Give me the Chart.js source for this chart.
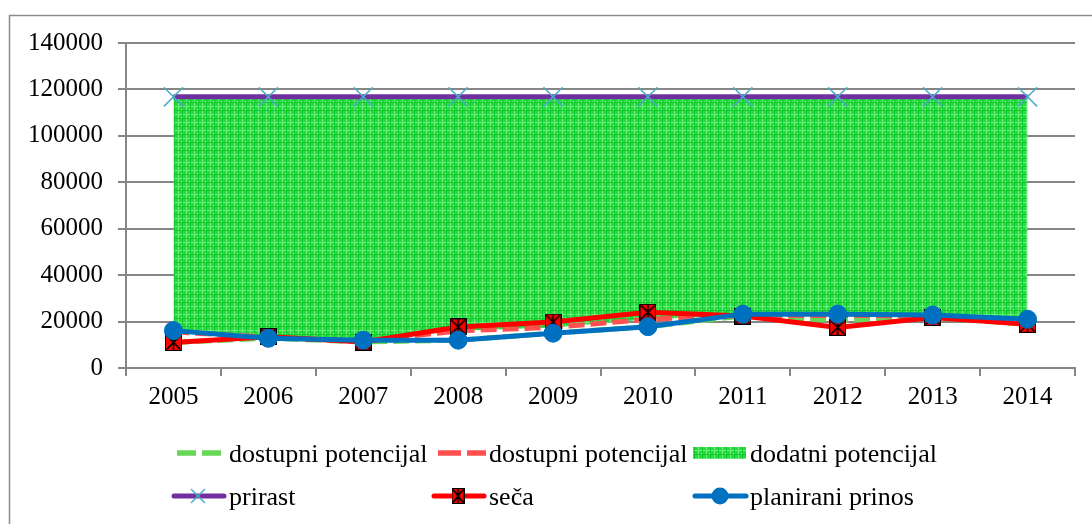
<!DOCTYPE html>
<html><head><meta charset="utf-8">
<script src="https://cdn.jsdelivr.net/npm/chart.js@4.4.1/dist/chart.umd.min.js"></script>
<style>html,body{margin:0;padding:0;background:#fff;}#wrap{width:1092px;height:524px;position:relative;}</style>
</head><body><div id="wrap"><canvas id="c" width="1092" height="524"></canvas></div>
<script>
// ---- data ----
const years = ['2005','2006','2007','2008','2009','2010','2011','2012','2013','2014'];
const dostupniZeleni = [11000, 12800, 11200, 12000, 15000, 17800, 22400, 20600, 21800, 18800];
const dostupniCrveni = [15500, 13300, 11500, 16000, 17500, 21000, 22600, 22600, 22500, 20500];
const prirast = [116800, 116800, 116800, 116800, 116800, 116800, 116800, 116800, 116800, 116800];
const seca = [11000, 13500, 11200, 17700, 19800, 24000, 22400, 17500, 21800, 18800];
const planirani = [16100, 12800, 12000, 12000, 15000, 17800, 23200, 23200, 22800, 21000];
const yTicks = [0, 20000, 40000, 60000, 80000, 100000, 120000, 140000];
const labelsLegend = ['dostupni potencijal', 'dostupni potencijal', 'dodatni potencijal', 'prirast', 'seča', 'planirani prinos'];

// ---- styles ----
const FONT = 'Liberation Serif, "Times New Roman", serif';
const GRID = '#868686';

function makePattern() {
  const c = document.createElement('canvas'); c.width = 8; c.height = 8;
  const g = c.getContext('2d');
  g.fillStyle = '#26dc40'; g.fillRect(0, 0, 8, 8);
  g.fillStyle = '#6eee7e'; g.fillRect(0, 2, 8, 1); g.fillRect(2, 0, 1, 8);
  g.fillStyle = '#a4f6ac'; g.fillRect(5, 5, 1, 1);
  g.fillStyle = '#14cc2e'; g.fillRect(0, 6, 8, 1); g.fillRect(6, 0, 1, 8);
  return g.createPattern(c, 'repeat');
}
function makeSecaMarker(w, h) {
  const c = document.createElement('canvas'); c.width = w; c.height = h;
  const g = c.getContext('2d');
  g.fillStyle = '#ff0000'; g.fillRect(0, 0, w, h);
  g.strokeStyle = '#000'; g.lineWidth = 1.6;
  g.beginPath();
  g.moveTo(1.5, 1.5); g.lineTo(w - 1.5, h - 1.5);
  g.moveTo(w - 1.5, 1.5); g.lineTo(1.5, h - 1.5);
  g.moveTo(w / 2, 0.5); g.lineTo(w / 2, h - 0.5);
  g.stroke();
  g.lineWidth = 1; g.strokeRect(0.5, 0.5, w - 1, h - 1);
  return c;
}
const pattern = makePattern();
const secaImg = makeSecaMarker(17, 17);
const secaImgLegend = makeSecaMarker(13, 16);

const framePlugin = {
  id: 'frame',
  beforeDraw(chart) {
    const g = chart.ctx;
    g.save();
    g.fillStyle = '#fff'; g.fillRect(0, 0, chart.width, chart.height);
    g.strokeStyle = '#8c8c8c'; g.lineWidth = 1.5;
    g.strokeRect(9.5, 15.5, 1200, 700);
    g.restore();
  }
};

const legendPlugin = {
  id: 'colLegend',
  afterDraw(chart) {
    const g = chart.ctx;
    const ds = chart.data.datasets;
    g.save();
    g.font = '26px ' + FONT;
    g.fillStyle = '#000';
    g.textBaseline = 'alphabetic';
    const r1 = 453, r2 = 496, b1 = 462, b2 = 505;
    // row 1
    g.lineWidth = 5.5;
    g.strokeStyle = ds[0].borderColor;
    g.beginPath(); g.moveTo(177, r1); g.lineTo(196, r1); g.moveTo(202, r1); g.lineTo(221, r1); g.stroke();
    g.fillText(ds[0].label, 229, b1);
    g.strokeStyle = ds[1].borderColor;
    g.beginPath(); g.moveTo(438, r1); g.lineTo(461, r1); g.moveTo(467, r1); g.lineTo(486, r1); g.stroke();
    g.fillText(ds[1].label, 489, b1);
    g.fillStyle = ds[2].backgroundColor; g.fillRect(693, 447, 53, 12);
    g.fillStyle = '#000';
    g.fillText(ds[2].label, 750, b1);
    // row 2
    g.lineCap = 'round'; g.lineWidth = 5;
    g.strokeStyle = ds[3].borderColor;
    g.beginPath(); g.moveTo(174, r2); g.lineTo(224, r2); g.stroke();
    g.strokeStyle = ds[3].pointBorderColor; g.lineWidth = 1.5; g.lineCap = 'butt';
    g.beginPath(); g.moveTo(191, r2 - 7); g.lineTo(205, r2 + 7); g.moveTo(205, r2 - 7); g.lineTo(191, r2 + 7); g.stroke();
    g.fillText(ds[3].label, 229, b2);
    g.lineCap = 'round'; g.lineWidth = 5;
    g.strokeStyle = ds[4].borderColor;
    g.beginPath(); g.moveTo(434, r2); g.lineTo(484, r2); g.stroke();
    g.drawImage(secaImgLegend, 458 - 6.5, r2 - 8);
    g.fillText(ds[4].label, 489, b2);
    g.strokeStyle = ds[5].borderColor;
    g.beginPath(); g.moveTo(695, r2); g.lineTo(746, r2); g.stroke();
    g.fillStyle = ds[5].pointBackgroundColor;
    g.beginPath(); g.arc(720, r2, 8.5, 0, Math.PI * 2); g.fill();
    g.fillStyle = '#000';
    g.fillText(ds[5].label, 750, b2);
    g.restore();
  }
};

const ctx = document.getElementById('c').getContext('2d');
new Chart(ctx, {
  type: 'line',
  data: {
    labels: years,
    datasets: [
      { label: labelsLegend[0], data: dostupniZeleni, borderColor: '#66d855', borderWidth: 5, borderDash: [16, 6],
        pointRadius: 0, fill: false, order: 4 },
      { label: labelsLegend[1], data: dostupniCrveni, borderColor: '#ff5050', borderWidth: 5, borderDash: [16, 6],
        pointRadius: 0, fill: false, order: 3 },
      { label: labelsLegend[2], data: prirast, borderWidth: 0, borderColor: 'rgba(0,0,0,0)', backgroundColor: pattern,
        pointRadius: 0, fill: 1, order: 5 },
      { label: labelsLegend[3], data: prirast, borderColor: '#7030a0', borderWidth: 5,
        pointStyle: 'crossRot', pointRadius: 13.5, pointBorderColor: '#4bacc6', pointBorderWidth: 1.5,
        pointBackgroundColor: '#4bacc6', fill: false, order: 2 },
      { label: labelsLegend[4], data: seca, borderColor: '#ff0000', borderWidth: 5,
        pointStyle: secaImg, pointRadius: 9, fill: false, order: 1 },
      { label: labelsLegend[5], data: planirani, borderColor: '#0070c0', borderWidth: 5,
        pointStyle: 'circle', pointRadius: 9, pointBackgroundColor: '#0070c0', pointBorderColor: '#0070c0',
        pointBorderWidth: 1, fill: false, order: 0 }
    ]
  },
  options: {
    responsive: false, animation: false, events: [],
    layout: { padding: { top: 43, right: 17, bottom: 100, left: 0 } },
    plugins: { legend: { display: false }, tooltip: { enabled: false }, filler: { propagate: false } },
    scales: {
      x: {
        offset: true,
        grid: { offset: true, drawOnChartArea: false, drawTicks: true, tickLength: 8, color: GRID, lineWidth: 2 },
        border: { color: GRID, width: 2 },
        ticks: { font: { family: FONT, size: 25 }, color: '#000', padding: 6, maxRotation: 0, autoSkip: false },
        afterFit: s => { s.height = 56; }
      },
      y: {
        min: 0, max: 140000,
        afterBuildTicks: s => { s.ticks = yTicks.map(v => ({ value: v })); },
        afterFit: s => { s.width = 126; },
        grid: { color: GRID, lineWidth: 2, tickLength: 8, drawTicks: true },
        border: { color: GRID, width: 2 },
        ticks: { font: { family: FONT, size: 25 }, color: '#000', padding: 15, callback: v => String(v) }
      }
    }
  },
  plugins: [framePlugin, legendPlugin]
});
</script></body></html>
